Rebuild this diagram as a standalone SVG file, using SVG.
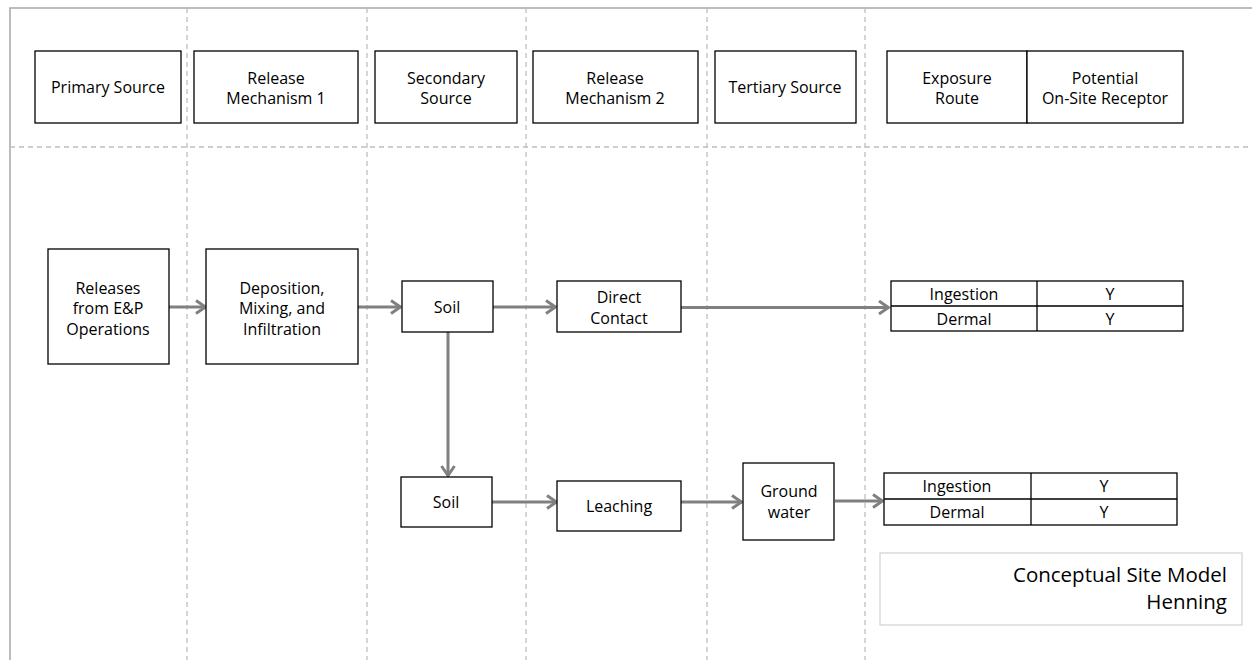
<svg xmlns="http://www.w3.org/2000/svg" width="1252" height="660" viewBox="0 0 1252 660">
<style>
text{font-family:"Open Sans","Liberation Sans",sans-serif;font-size:16px;fill:#000;text-anchor:middle}
.box{fill:#fff;stroke:#000;stroke-width:1.3}
.grid{stroke:#bfbfbf;stroke-width:1.3;stroke-dasharray:5 4;fill:none}
.frame{stroke:#a6a6a6;stroke-width:1.5;fill:none}
.arr{stroke:#808080;stroke-width:3;fill:none;marker-end:url(#ah)}
.title{font-size:20.5px;text-anchor:end}
</style>
<defs>
<marker id="ah" markerUnits="userSpaceOnUse" markerWidth="14" markerHeight="18" refX="12" refY="8" orient="auto">
<path d="M2,1.5 L11.5,8 L2,14.5" fill="none" stroke="#808080" stroke-width="3"/>
</marker>
</defs>
<rect width="1252" height="660" fill="#fff"/>
<g id="frame">
<path class="frame" d="M10,660 V8 H1252"/>
<path class="grid" d="M187,8 V660 M367,8 V660 M526,8 V660 M707,8 V660 M865,8 V660 M10,147 H1252"/>
</g>
<g id="headers">
<g id="h-primary"><rect class="box" x="35" y="51" width="146" height="72"/><text x="108" y="93">Primary Source</text></g>
<g id="h-rm1"><rect class="box" x="194" y="51" width="164" height="72"/><text x="276" y="84">Release</text><text x="276" y="104">Mechanism 1</text></g>
<g id="h-secondary"><rect class="box" x="375" y="51" width="142" height="72"/><text x="446" y="84">Secondary</text><text x="446" y="104">Source</text></g>
<g id="h-rm2"><rect class="box" x="533" y="51" width="165" height="72"/><text x="615" y="84">Release</text><text x="615" y="104">Mechanism 2</text></g>
<g id="h-tertiary"><rect class="box" x="715" y="51" width="141" height="72"/><text x="785" y="93">Tertiary Source</text></g>
<g id="h-exposure"><rect class="box" x="887" y="51" width="140" height="72"/><text x="957" y="84">Exposure</text><text x="957" y="104">Route</text></g>
<g id="h-receptor"><rect class="box" x="1027" y="51" width="156" height="72"/><text x="1105" y="84">Potential</text><text x="1105" y="104">On-Site Receptor</text></g>
</g>
<g id="connectors">
<path class="arr" d="M169,307 H206"/>
<path class="arr" d="M358,307 H401"/>
<path class="arr" d="M493,307 H556"/>
<path class="arr" d="M681,307.5 H889"/>
<path class="arr" d="M448,332 V476"/>
<path class="arr" d="M492,502 H557"/>
<path class="arr" d="M681,502 H742"/>
<path class="arr" d="M835,501 H883"/>
</g>
<g id="n-releases"><rect class="box" x="48" y="249" width="121" height="115"/><text x="108" y="294">Releases</text><text x="108" y="314">from E&amp;P</text><text x="108" y="335">Operations</text></g>
<g id="n-deposition"><rect class="box" x="206" y="249" width="152" height="115"/><text x="282" y="294">Deposition,</text><text x="282" y="314">Mixing, and</text><text x="282" y="335">Infiltration</text></g>
<g id="n-soil1"><rect class="box" x="402" y="281" width="91" height="51"/><text x="447" y="313">Soil</text></g>
<g id="n-direct"><rect class="box" x="557" y="281" width="124" height="51"/><text x="619" y="303">Direct</text><text x="619" y="324">Contact</text></g>
<g id="n-table1">
<rect class="box" x="891" y="281" width="292" height="50"/>
<path d="M891,306 H1183 M1037,281 V331" stroke="#000" stroke-width="1.3"/>
<text x="964" y="300">Ingestion</text><text x="1110" y="300">Y</text>
<text x="964" y="325">Dermal</text><text x="1110" y="325">Y</text>
</g>
<g id="n-soil2"><rect class="box" x="401" y="477" width="91" height="50"/><text x="446" y="508">Soil</text></g>
<g id="n-leaching"><rect class="box" x="557" y="481" width="124" height="50"/><text x="619" y="512">Leaching</text></g>
<g id="n-groundwater"><rect class="box" x="743" y="463" width="91" height="77"/><text x="789" y="497">Ground</text><text x="789" y="518">water</text></g>
<g id="n-table2">
<rect class="box" x="884" y="473" width="293" height="52"/>
<path d="M884,499 H1177 M1031,473 V525" stroke="#000" stroke-width="1.3"/>
<text x="957" y="492">Ingestion</text><text x="1104" y="492">Y</text>
<text x="957" y="518">Dermal</text><text x="1104" y="518">Y</text>
</g>
<g id="n-title">
<rect x="880" y="553" width="362" height="72" fill="#fff" stroke="#c8c8c8" stroke-width="1"/>
<text class="title" x="1227" y="582">Conceptual Site Model</text>
<text class="title" x="1227" y="609">Henning</text>
</g>
</svg>
